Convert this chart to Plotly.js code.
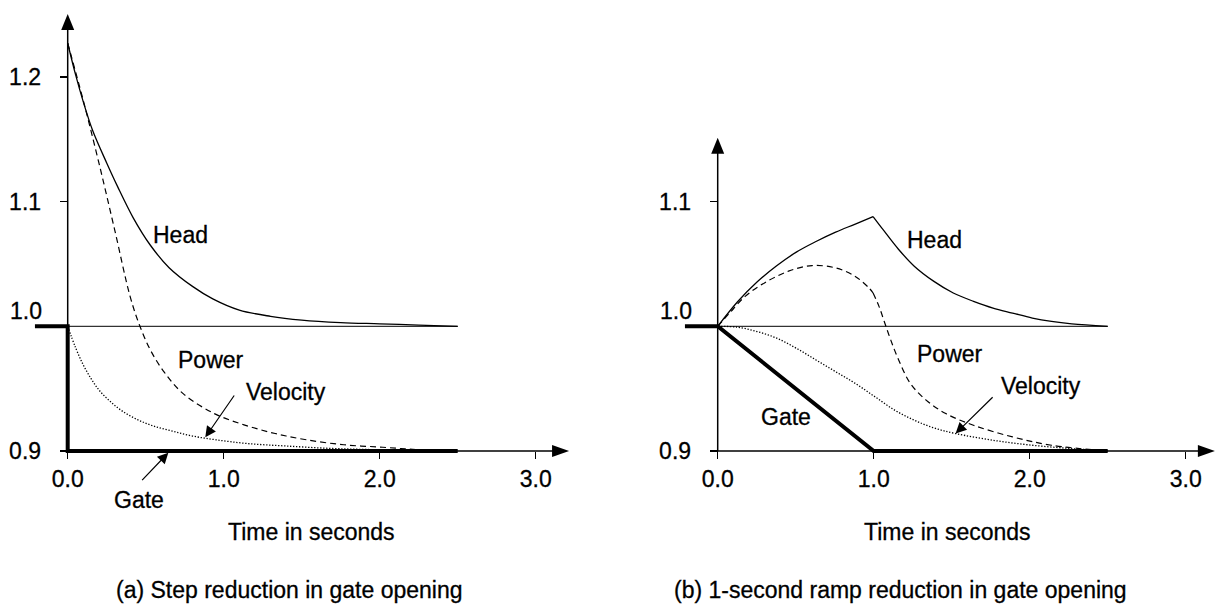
<!DOCTYPE html>
<html>
<head>
<meta charset="utf-8">
<script src="https://cdn.plot.ly/plotly-3.0.1.min.js"></script>
<style>
html,body{margin:0;padding:0;background:#fff;}
#chart{width:1216px;height:606px;}
#chart svg text{stroke:#000;stroke-width:0.3px;}
</style>
</head>
<body>
<div id="chart"></div>
<script>
// ---------- Data ----------
// (a) Step reduction in gate opening
const tHeadA  = [0, 0.05, 0.1, 0.16, 0.25, 0.32, 0.42, 0.53, 0.65, 0.8, 0.93, 1.1, 1.3, 1.5, 1.75, 2.0, 2.25, 2.5];
const vHeadA  = [1.227, 1.202, 1.180, 1.157, 1.131, 1.112, 1.087, 1.065, 1.047, 1.032, 1.022, 1.013, 1.008, 1.005, 1.003, 1.002, 1.001, 1.000];
const tPowerA = [0, 0.1, 0.2, 0.3, 0.4, 0.46, 0.53, 0.62, 0.74, 0.94, 1.13, 1.33, 1.53, 1.77, 2.02, 2.25, 2.5];
const vPowerA = [1.227, 1.181, 1.131, 1.078, 1.024, 1.001, 0.981, 0.963, 0.946, 0.930, 0.921, 0.914, 0.909, 0.905, 0.903, 0.901, 0.900];
const tVelA   = [0, 0.05, 0.1, 0.15, 0.2, 0.27, 0.35, 0.45, 0.55, 0.67, 0.8, 0.95, 1.15, 1.4, 1.7, 2.0, 2.5];
const vVelA   = [1.0, 0.983, 0.969, 0.958, 0.949, 0.940, 0.932, 0.925, 0.920, 0.916, 0.912, 0.909, 0.906, 0.904, 0.902, 0.901, 0.900];
const tGateA  = [-0.21, 0, 0, 2.5];
const vGateA  = [1.0, 1.0, 0.9, 0.9];

// (b) 1-second ramp reduction in gate opening
const tHeadBrise  = [0, 0.126, 0.252, 0.378, 0.504, 0.63, 0.756, 0.882, 0.996];
const vHeadBrise  = [1.0, 1.0195, 1.0355, 1.0485, 1.0595, 1.068, 1.0755, 1.082, 1.088];
const tHeadBfall  = [0.996, 1.059, 1.16, 1.26, 1.386, 1.51, 1.64, 1.765, 1.89, 2.017, 2.14, 2.27, 2.5];
const vHeadBfall  = [1.088, 1.0777, 1.0616, 1.0482, 1.036, 1.0267, 1.020, 1.0146, 1.0106, 1.0066, 1.0039, 1.002, 1.0];
const tPowerBrise = [0, 0.076, 0.176, 0.30, 0.454, 0.605, 0.756, 0.882, 0.97, 0.996];
const vPowerBrise = [1.0, 1.0106, 1.024, 1.0348, 1.0442, 1.0487, 1.0468, 1.040, 1.0307, 1.0267];
const tPowerBfall = [0.996, 1.034, 1.071, 1.109, 1.16, 1.235, 1.336, 1.462, 1.639, 1.89, 2.14, 2.5];
const vPowerBfall = [1.0267, 1.016, 1.0026, 0.9891, 0.973, 0.9542, 0.9408, 0.930, 0.9207, 0.9113, 0.9046, 0.900];
const tVelB   = [0, 0.126, 0.252, 0.378, 0.504, 0.63, 0.756, 0.882, 1.008, 1.134, 1.26, 1.386, 1.525, 1.765, 2.017, 2.27, 2.5];
const vVelB   = [1.0, 0.9993, 0.9958, 0.9905, 0.9824, 0.973, 0.9636, 0.9542, 0.9435, 0.9328, 0.9247, 0.9185, 0.914, 0.9086, 0.9046, 0.9019, 0.900];
const tGateB  = [-0.21, 0, 1.0, 2.5];
const vGateB  = [1.0, 1.0, 0.9, 0.9];

const tRef = [0, 2.5];
const vRef = [1.0, 1.0];

const xTickVals = [0, 1, 2, 3];
const xTickText = ['0.0', '1.0', '2.0', '3.0'];
const yTickValsA = [0.9, 1.0, 1.1, 1.2];
const yTickTextA = ['0.9', '', '1.1', '1.2'];
const yTickValsB = [0.9, 1.0, 1.1];
const yTickTextB = ['0.9', '', '1.1'];

// ---------- Styling ----------
const FONT = 'Liberation Sans, Arial, sans-serif';
const FS = 23;
function tr(x, y, xa, ya, line) {
  return {x: x, y: y, xaxis: xa, yaxis: ya, mode: 'lines', line: line, hoverinfo: 'skip', showlegend: false};
}
const refL   = {color: '#000', width: 1};
const thin   = {color: '#000', width: 1.3, shape: 'spline', smoothing: 1};
const dashed = {color: '#000', width: 1.2, dash: '6px,4px', shape: 'spline', smoothing: 1};
const dotted = {color: '#000', width: 1.3, dash: '1.3px,1.7px', shape: 'spline', smoothing: 1};
const thick  = {color: '#000', width: 4};

const traces = [
  tr(tRef, vRef, 'x', 'y', refL),
  tr(tHeadA, vHeadA, 'x', 'y', thin),
  tr(tPowerA, vPowerA, 'x', 'y', dashed),
  tr(tVelA, vVelA, 'x', 'y', dotted),
  tr(tGateA, vGateA, 'x', 'y', thick),
  tr(tRef, vRef, 'x2', 'y2', refL),
  tr(tHeadBrise, vHeadBrise, 'x2', 'y2', thin),
  tr(tHeadBfall, vHeadBfall, 'x2', 'y2', thin),
  tr(tPowerBrise, vPowerBrise, 'x2', 'y2', dashed),
  tr(tPowerBfall, vPowerBfall, 'x2', 'y2', dashed),
  tr(tVelB, vVelB, 'x2', 'y2', dotted),
  tr(tGateB, vGateB, 'x2', 'y2', thick)
];

const W = 1216, H = 606;
const PXU = 156;      // px per second
const PYU = 1247;     // px per unit on y
const x0A = 67.7, x0B = 717.7, y09 = 451;
const yRange = [0.85, 1.26];
const yDomain = [(H - (y09 + (0.9 - yRange[0]) * PYU)) / H, (H - (y09 - (yRange[1] - 0.9) * PYU)) / H];
const xRangeA = [-0.4, 3.3], xRangeB = [-0.4, 3.19];
const xDomA = [(x0A + xRangeA[0] * PXU) / W, (x0A + xRangeA[1] * PXU) / W];
const xDomB = [(x0B + xRangeB[0] * PXU) / W, (x0B + xRangeB[1] * PXU) / W];
const xPos = (H - y09) / H;

function xax(range, dom) {
  return {range: range, domain: dom, anchor: 'free', position: xPos, showgrid: false, zeroline: false, showline: false,
    ticks: 'outside', ticklen: 7, tickwidth: 1.3, tickcolor: '#000', tickvals: xTickVals, ticktext: xTickText,
    tickfont: {family: FONT, size: FS, color: '#000'}, ticklabelstandoff: 0, fixedrange: true};
}
function yax(dom, pos, vals, text) {
  return {range: yRange, domain: dom, anchor: 'free', position: pos, showgrid: false, zeroline: false, showline: false,
    ticks: 'outside', ticklen: 8, tickwidth: 1.3, tickcolor: '#000', tickvals: vals, ticktext: text,
    tickfont: {family: FONT, size: FS, color: '#000'}, ticklabelstandoff: 14, fixedrange: true};
}

const axLine = {color: '#000', width: 1.5};
function axisShapes(xa, ya, yTop, xTip) {
  const aw = 6.5 / PXU, al = 16 / PYU;      // vertical arrow half-width, length
  const bl = 17 / PXU, bw = 6 / PYU;        // horizontal arrow length, half-width
  return [
    {type: 'line', xref: xa, yref: ya, x0: 0, x1: 0, y0: 0.9, y1: yTop - al * 0.5, line: axLine},
    {type: 'line', xref: xa, yref: ya, x0: 0, x1: xTip - bl * 0.5, y0: 0.9, y1: 0.9, line: axLine},
    {type: 'path', xref: xa, yref: ya, fillcolor: '#000', line: {width: 0},
      path: `M ${-aw},${yTop - al} L 0,${yTop} L ${aw},${yTop - al} Z`},
    {type: 'path', xref: xa, yref: ya, fillcolor: '#000', line: {width: 0},
      path: `M ${xTip - bl},${0.9 + bw} L ${xTip},0.9 L ${xTip - bl},${0.9 - bw} Z`}
  ];
}
const shapes = [].concat(axisShapes('x', 'y', 1.2504, 3.214), axisShapes('x2', 'y2', 1.1512, 3.187));

function txt(text, x, y, xa, ya, extra) {
  return Object.assign({text: text, x: x, y: y, xref: xa, yref: ya, showarrow: false,
    xanchor: 'center', yanchor: 'middle',
    font: {family: FONT, size: FS, color: '#000'}}, extra || {});
}
function arr(x, y, ax, ay, xa, ya) {
  return {text: '', x: x, y: y, ax: ax, ay: ay, xref: xa, yref: ya, axref: xa, ayref: ya,
    showarrow: true, arrowhead: 2, arrowsize: 1.8, arrowwidth: 1.2, arrowcolor: '#000', standoff: 0, startstandoff: 0};
}
const py = v => (H - v) / H;
const tx = (x0, t) => (x0 + t * PXU) / W;   // time value -> paper x (for text below the axes)

const annotations = [
  // y label "1.0" (raised above the line)
  txt('1.0', 0, 1.0123, 'x', 'y', {xanchor: 'right', xshift: -24}),
  txt('1.0', 0, 1.0123, 'x2', 'y2', {xanchor: 'right', xshift: -24}),
  // panel (a) labels
  txt('Head', 0.72, 1.073, 'x', 'y'),
  txt('Power', 0.92, 0.973, 'x', 'y'),
  txt('Velocity', 1.40, 0.9476, 'x', 'y'),
  txt('Gate', 0.455, 0.8607, 'x', 'y'),
  arr(0.882, 0.911, 1.074, 0.9457, 'x', 'y'),
  arr(0.645, 0.8986, 0.468, 0.8754, 'x', 'y'),
  // panel (b) labels
  txt('Head', 1.39, 1.069, 'x2', 'y2'),
  txt('Power', 1.487, 0.9779, 'x2', 'y2'),
  txt('Velocity', 2.075, 0.9523, 'x2', 'y2'),
  txt('Gate', 0.436, 0.9274, 'x2', 'y2'),
  arr(1.525, 0.914, 1.772, 0.9443, 'x2', 'y2'),
  // axis titles and captions
  txt('Time in seconds', tx(x0A, 1.56), py(532), 'paper', 'paper'),
  txt('Time in seconds', tx(x0B, 1.47), py(532), 'paper', 'paper'),
  txt('(a) Step reduction in gate opening', tx(x0A, 1.42), py(590), 'paper', 'paper'),
  txt('(b) 1-second ramp reduction in gate opening', tx(x0B, 1.17), py(590), 'paper', 'paper')
];

const layout = {
  width: W, height: H, margin: {l: 0, r: 0, t: 0, b: 0, pad: 0},
  paper_bgcolor: '#fff', plot_bgcolor: '#fff', showlegend: false,
  font: {family: FONT, size: FS, color: '#000'},
  xaxis: xax(xRangeA, xDomA),
  yaxis: yax(yDomain, x0A / W, yTickValsA, yTickTextA),
  xaxis2: xax(xRangeB, xDomB),
  yaxis2: yax(yDomain, x0B / W, yTickValsB, yTickTextB),
  shapes: shapes,
  annotations: annotations
};

Plotly.newPlot('chart', traces, layout, {displayModeBar: false, staticPlot: true});
</script>
</body>
</html>
